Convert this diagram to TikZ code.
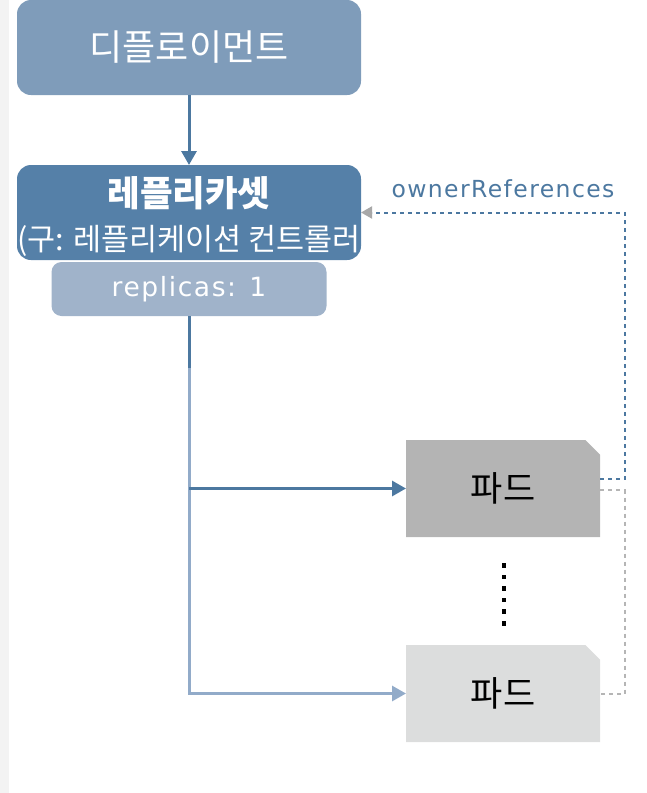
\documentclass[tikz,border=0pt]{standalone}
\usepackage{fontspec}
\setmainfont{Noto Sans CJK KR}
\newfontfamily\latinfont[LetterSpace=6]{DejaVu Sans}
\usetikzlibrary{arrows.meta,shapes.misc}

\definecolor{deployblue}{HTML}{7F9CBA}
\definecolor{rsblue}{HTML}{5580A8}
\definecolor{repsblue}{HTML}{A0B3CA}
\definecolor{linkblue}{HTML}{4C78A0}
\definecolor{palelink}{HTML}{92ABC9}
\definecolor{podgray}{HTML}{B4B4B4}
\definecolor{podpale}{HTML}{DCDDDD}
\definecolor{railgray}{HTML}{B5B5B5}
\definecolor{tipgray}{HTML}{A8A8A8}
\definecolor{stripgray}{HTML}{F3F3F3}

\begin{document}
\begin{tikzpicture}[x=1pt, y=-1pt, every node/.style={inner sep=0pt, outer sep=0pt},
    box/.style={rectangle, rounded corners=14pt, minimum width=344pt, text=white, align=center},
    pod/.style={chamfered rectangle, chamfered rectangle corners=north east,
        chamfered rectangle xsep=8pt, chamfered rectangle ysep=6.5pt,
        minimum width=194pt, minimum height=97pt, font=\fontsize{35}{40}\selectfont},
    arrow/.style={line width=3pt, -{Triangle[length=14pt, width=15pt]}},
    ownerline/.style={line width=2pt, draw=linkblue, dash pattern=on 4pt off 4pt,
        -{Triangle[length=11pt, width=12pt, color=tipgray]}},
    railline/.style={line width=2pt, draw=railgray, dash pattern=on 4pt off 4pt}]
    \useasboundingbox (0,0) rectangle (647,793);
    \fill[stripgray] (0,0) rectangle (9,793);

    \node[box, fill=deployblue, minimum height=95pt, font=\fontsize{36}{42}\selectfont](deploy) at (189,47.5) {디플로이먼트};
    \node[box, fill=rsblue, minimum height=95pt](rs) at (189,212.5)
        {{\fontsize{35.5}{40}\selectfont\bfseries\rule{0pt}{38pt}레플리카셋}\\[15pt]{\fontsize{30.5}{34}\selectfont (구: 레플리케이션 컨트롤러}};
    \node[box, fill=repsblue, rounded corners=10pt, minimum width=275pt, minimum height=54pt,
        font=\latinfont\fontsize{26.5}{30}\selectfont](reps) at (189,289) {replicas: 1};

    \node[pod, fill=podgray](pod1) at (503,488.5) {파드};
    \node[pod, fill=podpale](pod2) at (503,693.5) {파드};
    \node[text=linkblue, font=\latinfont\fontsize{23.5}{28}\selectfont](owner) at (503,189) {ownerReferences};

    \coordinate (split) at (189,368);
    \coordinate (rail) at (624.5,0);

    \foreach \i in {0,...,5}
        \fill (501.8,563+11.6*\i) rectangle ++(4.5,4.5);

    \draw[arrow, draw=linkblue, fill=linkblue] (deploy.south) -- (rs.north);
    \draw[line width=3pt, draw=palelink] (split) |- ([xshift=-12pt]pod2.west);
    \draw[arrow, draw=palelink] (split |- pod2.west) -- (pod2.west);
    \draw[line width=3pt, draw=linkblue] (reps.south) -- (split);
    \draw[arrow, draw=linkblue] (split |- pod1.west) -- (pod1.west);

    \draw[railline] ([yshift=-1.5pt]pod1.east) -- ([yshift=-1.5pt]pod1.east -| rail) -- (pod2.east -| rail) -- (pod2.east);
    \draw[ownerline] ([yshift=9.5pt]pod1.east) -| (rs.east -| rail) -- (rs.east);
\end{tikzpicture}
\end{document}
